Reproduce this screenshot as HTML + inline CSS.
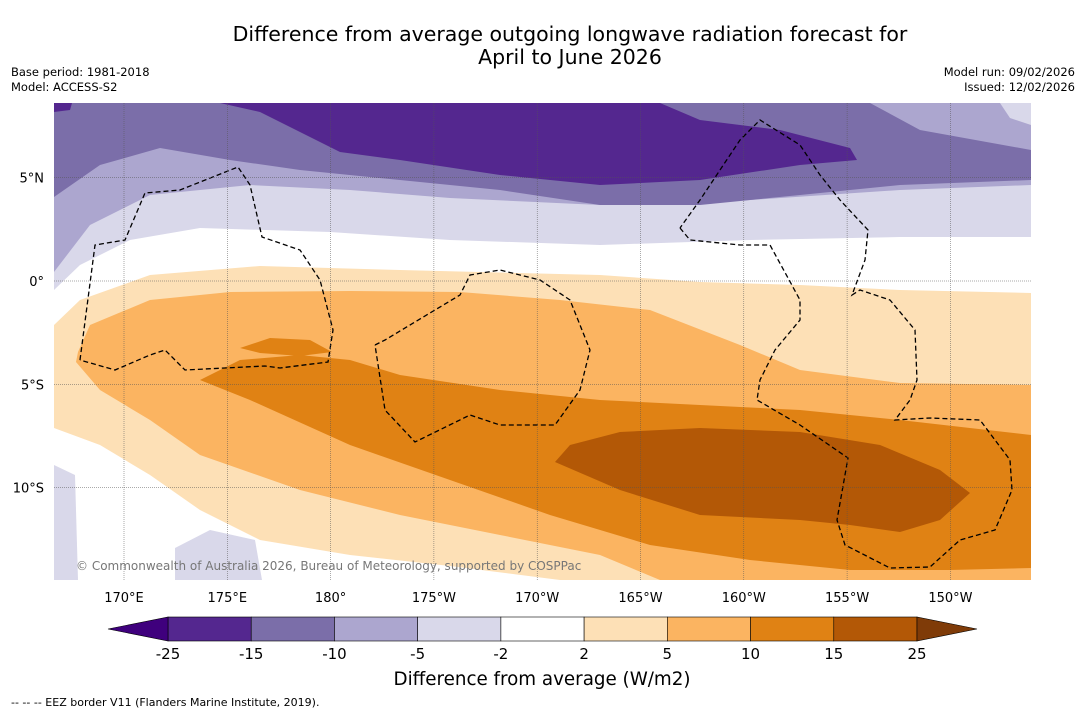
<!DOCTYPE html>
<html><head><meta charset="utf-8"><style>
body{margin:0;background:#fff;width:1085px;height:713px;overflow:hidden;font-family:"Liberation Sans",sans-serif}
svg text{font-family:"DejaVu Sans","Liberation Sans",sans-serif}
</style></head><body>
<svg id="chart" width="1085" height="713" viewBox="0 0 1085 713">
<text x="570" y="41" font-size="20.5" text-anchor="middle">Difference from average outgoing longwave radiation forecast for</text>
<text x="570" y="64" font-size="20.5" text-anchor="middle">April to June 2026</text>
<text x="11" y="76" font-size="11.5">Base period: 1981-2018</text>
<text x="11" y="91" font-size="11.5">Model: ACCESS-S2</text>
<text x="1075" y="76" font-size="11.5" text-anchor="end">Model run: 09/02/2026</text>
<text x="1075" y="91" font-size="11.5" text-anchor="end">Issued: 12/02/2026</text>
<defs><clipPath id="mc"><rect x="54" y="103" width="977" height="477"/></clipPath></defs>
<g id="map" clip-path="url(#mc)">
<rect x="54" y="103" width="977" height="477" fill="#fff"/>
<polygon fill="#d9d8ea" points="54,103 1031,103 1031,237 900,237 750,240 600,245 450,240 330,232 200,228 130,240 80,265 54,290"/>
<polygon fill="#aca6cf" points="54,103 1031,103 1031,185 900,190 750,200 600,205 450,198 350,190 250,185 150,195 90,225 54,272"/>
<polygon fill="#7b6ea9" points="54,103 870,103 920,130 1031,150 1031,180 900,185 800,195 700,205 600,205 500,190 400,180 300,170 230,160 160,148 100,165 54,197"/>
<polygon fill="#d9d8ea" points="1000,103 1031,103 1031,125 1010,118"/>
<polygon fill="#54278f" points="220,103 660,103 700,120 780,130 850,148 857,160 800,165 700,180 600,185 500,175 400,160 340,152 260,112"/>
<polygon fill="#54278f" points="54,103 72,103 70,110 54,112"/>
<polygon fill="#d9d8ea" points="54,465 75,475 78,580 54,580"/>
<polygon fill="#d9d8ea" points="175,548 210,530 255,540 262,580 175,580"/>
<polygon fill="#fde0b6" points="54,325 80,300 150,275 260,266 400,270 600,275 700,282 800,285 900,290 1031,293 1031,580 560,580 450,566 350,555 260,540 200,510 150,475 100,445 54,428"/>
<polygon fill="#fbb461" points="78,352 90,325 150,300 230,292 350,291 460,292 560,300 650,310 740,345 800,370 900,383 1031,385 1031,580 660,580 600,555 500,535 400,515 300,490 200,455 150,420 100,390 76,362"/>
<polygon fill="#e08214" points="200,380 240,360 300,355 350,360 400,375 500,390 600,400 700,405 800,410 900,420 1031,435 1031,568 950,570 850,570 750,560 650,545 550,515 450,480 350,445 250,400"/>
<polygon fill="#e08214" points="240,348 270,338 310,340 332,352 300,356 260,353"/>
<polygon fill="#b35806" points="555,462 570,445 620,432 700,428 800,432 880,445 940,470 970,493 940,520 900,532 850,525 800,520 700,515 620,490"/>
<g fill="none" stroke="#000" stroke-width="1.3" stroke-dasharray="5,3">
<polyline points="80,360 95,245 125,240 145,193 180,190 238,167 250,185 262,237 300,250 320,280 333,330 328,362 280,368 265,366 185,370 165,350 150,355 115,370 80,360"/>
<polyline points="375,345 385,340 460,295 470,275 500,270 540,280 570,300 590,350 580,390 555,425 500,425 470,415 415,442 385,410 375,345"/>
<polyline points="680,228 690,240 740,245 770,245 800,300 800,320 775,350 760,380 757,400 800,425 848,458 837,520 845,545 890,568 930,567 960,540 995,530 1012,490 1010,460 980,420 930,418 895,420 910,400 917,380 915,330 890,300 860,290 852,295 865,260 868,230 840,200 820,175 800,145 760,120 740,140 700,200 680,228"/>
</g>
<g id="grid"></g>
<text x="76" y="570" font-size="12" fill="#777">© Commonwealth of Australia 2026, Bureau of Meteorology, supported by COSPPac</text>
</g>
<g id="axes"></g>
<g id="cbar"></g>
<text x="542" y="685" font-size="18.3" text-anchor="middle">Difference from average (W/m2)</text>
<text x="11" y="706" font-size="11">--  --  -- EEZ border V11 (Flanders Marine Institute, 2019).</text>
</svg>
<script>
const lonTicks=[170,175,180,185,190,195,200,205,210];
const lonLabels=["170°E","175°E","180°","175°W","170°W","165°W","160°W","155°W","150°W"];
const latTicks=[5,0,-5,-10];
const latLabels=["5°N","0°","5°S","10°S"];
const levels=["-25","-15","-10","-5","-2","2","5","10","15","25"];
const colors=["#54278f","#7b6ea9","#aca6cf","#d9d8ea","#ffffff","#fde0b6","#fbb461","#e08214","#b35806"];
const extLow="#3f007d", extHigh="#7f3b08";
const NS="http://www.w3.org/2000/svg";
const xLon=l=>124+(l-170)*20.66;
const yLat=l=>281-l*20.66;
const grid=document.getElementById('grid'),axes=document.getElementById('axes'),cb=document.getElementById('cbar');
function mk(t,a,p){const e=document.createElementNS(NS,t);for(const k in a)e.setAttribute(k,a[k]);p.appendChild(e);return e;}
lonTicks.forEach((l,i)=>{
 const g=mk('line',{x1:xLon(l),x2:xLon(l),y1:103,y2:580,stroke:'#555','stroke-width':0.5,'stroke-dasharray':'1,1'},grid);
 
 
 const t=mk('text',{x:xLon(l),y:602,'font-size':13,'text-anchor':'middle'},axes);t.textContent=lonLabels[i];
 
 
});
latTicks.forEach((l,i)=>{
 const g=mk('line',{x1:54,x2:1031,y1:yLat(l),y2:yLat(l),stroke:'#555','stroke-width':0.5,'stroke-dasharray':'1,1'},grid);
 
 
 const t=mk('text',{x:44,y:yLat(l)+5,'font-size':13,'text-anchor':'end'},axes);t.textContent=latLabels[i];
 
 
});
const x0=168,w=(917-168)/colors.length,y0=617,h=24;
colors.forEach((c,i)=>{
 const r=mk('rect',{x:x0+i*w,y:y0,width:w,height:h,fill:c,stroke:'#000','stroke-width':0.6},cb);
 
 
});
const tl=mk('polygon',{points:`108,${y0+h/2} ${x0},${y0} ${x0},${y0+h}`,fill:extLow,stroke:'#000','stroke-width':0.6},cb);


const tr=mk('polygon',{points:`977,${y0+h/2} 917,${y0} 917,${y0+h}`,fill:extHigh,stroke:'#000','stroke-width':0.6},cb);


levels.forEach((v,i)=>{
 const t=mk('text',{x:x0+i*w,y:659,'font-size':15,'text-anchor':'middle'},cb);t.textContent=v;
 
 
});
</script>
</body></html>
